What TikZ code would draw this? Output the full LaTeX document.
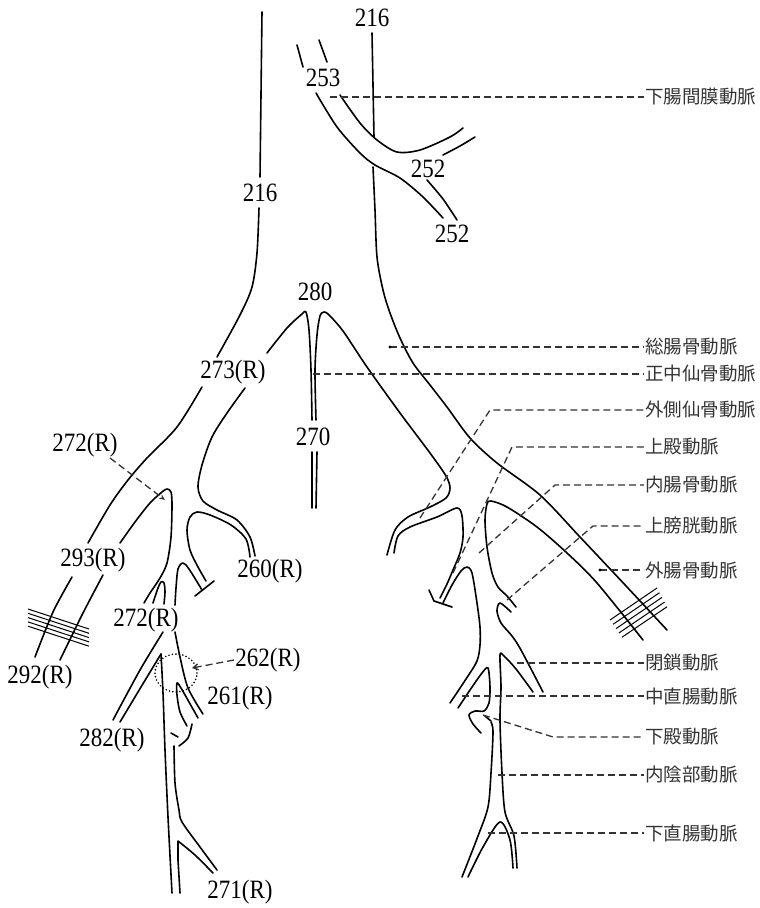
\documentclass[tikz,border=0pt]{standalone}
\usepackage{fontspec}
\setmainfont{Liberation Serif}
\newfontfamily\jp{Noto Sans CJK JP}
\usetikzlibrary{arrows.meta}
\begin{document}
\begin{tikzpicture}[x=1pt,y=-1pt,
  vessel/.style={line width=1.6pt, line cap=round, line join=round},
  lead/.style={line width=1.3pt, dash pattern=on 7pt off 4pt, black!80},
  hatch/.style={line width=1pt},
  num/.style={inner sep=0pt, font=\fontsize{23}{23}\selectfont},
  jlab/.style={anchor=west, inner sep=1pt, font=\jp\fontsize{18.5}{18.5}\selectfont, text=black!80},
]
\useasboundingbox (0,0) rectangle (760,908);

% ---------- aorta left edge / right common & external iliac outer ----------
\draw[vessel] (262,12) -- (260,177);
\draw[vessel] plot[smooth] coordinates {(259,208) (257,253) (252,287) (240,315) (217,357)};
\draw[vessel] plot[smooth] coordinates {(202,387) (177,427) (147,458) (128,480) (110,505) (88,543)};
\draw[vessel] plot[smooth] coordinates {(72,577) (53,612) (35,657)};

% ---------- bifurcation 280, median sacral 270 ----------
\draw[vessel] plot[smooth, tension=0.5] coordinates {(267,353) (287,328) (302,314) (306,312) (309,330) (311,370) (312,420)};
\draw[vessel] (312,452) -- (312,508);
\draw[vessel] (317,452) -- (316,508);
\draw[vessel] plot[smooth, tension=0.5] coordinates {(316,420) (315,370) (317,335) (320,316) (324,312) (329,315) (343,331) (367,367) (400,413) (430,453) (446,476) (450,488) (446,498) (430,507) (408,517) (395,530) (387,555)};

% ---------- left internal iliac region ----------
\draw[vessel] plot[smooth] coordinates {(245,388) (227,413) (212,437) (202,465) (198,487) (203,501) (217,510) (237,520) (250,537) (255,556)};
\draw[vessel] plot[smooth] coordinates {(250,557) (246,539) (231,525) (210,515) (197,512) (190,517) (187,530) (190,550) (198,567) (206,581)};
\draw[vessel] plot[smooth] coordinates {(175,605) (176,588) (178,569) (183,563) (189,569) (202,590)};
\draw[vessel] (195,596) -- (214,581);
\draw[vessel] plot[smooth, tension=0.5] coordinates {(120,543) (135,522) (150,503) (162,492) (167,489) (171,492) (172,505) (171,537) (167,563) (160,578) (150,593) (144,603)};
\draw[vessel] plot[smooth] coordinates {(103,575) (83,613) (60,660)};
\draw[vessel] plot[smooth, tension=0.5] coordinates {(153,603) (158,588) (161,582) (164,583) (165,592) (164,604)};

\draw[vessel] plot[smooth] coordinates {(163,632) (140,670) (113,720)};
\draw[vessel] plot[smooth] coordinates {(120,722) (141,687) (161,654)};
\draw[vessel] plot[smooth] coordinates {(161,654) (163,693) (165,750) (168,817) (172,893)};
\draw[vessel] plot[smooth] coordinates {(175,632) (180,657) (188,688) (203,714)};
\draw[vessel] plot[smooth, tension=0.5] coordinates {(198,718) (189,702) (181,688) (177,683) (177,695) (180,712) (187,726)};
\draw[vessel] plot[smooth] coordinates {(192,724) (188,738) (179,746)};
\draw[vessel] (171,733) -- (178,737);
\draw[vessel] plot[smooth] coordinates {(174,746) (175,783) (179,810) (182,822) (200,847) (217,870)};
\draw[vessel] plot[smooth] coordinates {(213,873) (195,855) (178,841)} -- (178,860) -- (180,893);

\draw[line width=1.8pt, line cap=round, dash pattern=on 0pt off 3.5pt] (176,673) ellipse [x radius=21pt, y radius=19pt];

\foreach \i in {0,...,4} \draw[hatch] (28,{609+4.3*\i}) -- (89,{629+4.3*\i});

% ---------- inferior mesenteric 253 / 252 ----------
\draw[vessel] (297,45) -- (303,67);
\draw[vessel] (319,40) -- (327,62);
\draw[vessel] plot[smooth] coordinates {(316,93) (337,127) (360,153) (375,165) (400,178) (423,197) (443,218)};
\draw[vessel] plot[smooth] coordinates {(340,95) (360,123) (377,140) (397,152) (420,150) (450,137) (463,128)};
\draw[vessel] plot[smooth] coordinates {(443,155) (460,146) (475,137)};
\draw[vessel] plot[smooth] coordinates {(427,180) (443,199) (457,220)};

% ---------- aorta right edge / left common & external iliac outer ----------
\draw[vessel] (372,33) -- (374,137);
\draw[vessel] plot[smooth] coordinates {(373,167) (375,210) (377,257) (383,290) (390,313) (400,338) (413,363) (430,385) (447,407) (470,438) (497,463) (540,495) (580,537) (627,587) (667,630)};
\draw[vessel] plot[smooth, tension=0.5] coordinates {(643,640) (597,583) (567,553) (537,527) (507,507) (491,501) (487,504) (485,520) (487,547) (492,573) (498,587) (507,596) (516,607)};
\draw[vessel] plot[smooth, tension=0.5] coordinates {(511,612) (500,603) (497,611) (501,623) (512,636) (521,650) (543,692)};

% ---------- left internal iliac branches ----------
\draw[vessel] plot[smooth, tension=0.5] coordinates {(394,553) (398,536) (410,527) (437,517) (457,508) (462,516) (463,537) (460,553) (453,570) (447,584) (440,598)};
\draw[vessel] (429,590) -- (434,601) -- (452,607);
\draw[vessel] plot[smooth, tension=0.5] coordinates {(443,603) (452,585) (461,571) (467,567) (472,573) (477,603) (480,627) (480,645) (477,661) (466,679) (450,703)};
\draw[vessel] plot[smooth, tension=0.5] coordinates {(458,708) (470,690) (482,673) (488,668) (490,687) (489,703) (484,711) (475,711) (469,715) (473,724) (481,733)};
\draw[vessel] (485,716) -- (491,721);
\draw[vessel] plot[smooth] coordinates {(491,722) (493,732) (491,773) (488,807) (478,836) (462,877)};
\draw[vessel] plot[smooth, tension=0.5] coordinates {(533,692) (516,669) (504,656) (500,655) (501,687) (500,720) (502,773) (505,812) (514,836) (517,868)};
\draw[vessel] plot[smooth, tension=0.5] coordinates {(468,877) (483,847) (500,822) (510,840) (513,868)};

\foreach \i in {0,...,4} \draw[hatch] ({610+3*\i},{620+4.3*\i}) -- ({657+2.5*\i},{588+4.7*\i});

% ---------- number labels ----------
\node[num] (n216t) at (372,18) {\scalebox{1}[1.15]{216}};
\node[num] (n216l) at (260,193) {\scalebox{1}[1.15]{216}};
\node[num] (n253) at (323,78) {\scalebox{1}[1.15]{253}};
\node[num] (n252a) at (428,169) {\scalebox{1}[1.15]{252}};
\node[num] (n252b) at (452,234) {\scalebox{1}[1.15]{252}};
\node[num] (n280) at (315,292) {\scalebox{1}[1.15]{280}};
\node[num] (n273) at (233,372) {\scalebox{1}[1.15]{273(R)}};
\node[num] (n270) at (313,437) {\scalebox{1}[1.15]{270}};
\node[num] (n272a) at (85,445) {\scalebox{1}[1.15]{272(R)}};
\node[num] (n293) at (93,560) {\scalebox{1}[1.15]{293(R)}};
\node[num] (n260) at (270,571) {\scalebox{1}[1.15]{260(R)}};
\node[num] (n272b) at (146,620) {\scalebox{1}[1.15]{272(R)}};
\node[num] (n262) at (268,660) {\scalebox{1}[1.15]{262(R)}};
\node[num] (n292) at (40,677) {\scalebox{1}[1.15]{292(R)}};
\node[num] (n261) at (240,698) {\scalebox{1}[1.15]{261(R)}};
\node[num] (n282) at (112,740) {\scalebox{1}[1.15]{282(R)}};
\node[num] (n271) at (240,892) {\scalebox{1}[1.15]{271(R)}};

\coordinate (a272s) at (110,458);
\coordinate (a272e) at (165,500);
\draw[lead, -{Stealth[length=6pt,width=5pt]}] (a272s) -- (a272e);
\coordinate (a262s) at (234,660);
\coordinate (a262e) at (192,668);
\draw[lead, -{Straight Barb[length=5pt,width=6pt]}] (a262s) -- (a262e);

% ---------- Japanese labels with leaders ----------
\node[jlab] (j1) at (644,97) {下腸間膜動脈};
\node[jlab] (j2) at (644,347) {総腸骨動脈};
\node[jlab] (j3) at (644,374) {正中仙骨動脈};
\node[jlab] (j4) at (644,410) {外側仙骨動脈};
\node[jlab] (j5) at (644,447) {上殿動脈};
\node[jlab] (j6) at (644,485) {内腸骨動脈};
\node[jlab] (j7) at (644,526) {上膀胱動脈};
\node[jlab] (j8) at (644,570) {外腸骨動脈};
\node[jlab] (j9) at (644,663) {閉鎖動脈};
\node[jlab] (j10) at (644,696) {中直腸動脈};
\node[jlab] (j11) at (644,737) {下殿動脈};
\node[jlab] (j12) at (644,775) {内陰部動脈};
\node[jlab] (j13) at (644,833) {下直腸動脈};

\coordinate (p1) at (330,97);
\coordinate (p2) at (390,347);
\coordinate (p3) at (313,374);
\coordinate (p4) at (420,518);  \coordinate (b4) at (490,410);
\coordinate (p5) at (453,573);  \coordinate (b5) at (512,447);
\coordinate (p6) at (479,553);  \coordinate (b6) at (555,485);
\coordinate (p7) at (507,600);  \coordinate (b7) at (593,526);
\coordinate (p8) at (600,570);
\coordinate (p9) at (517,663);
\coordinate (p10) at (462,696);
\coordinate (p11) at (483,715); \coordinate (b11) at (553,737);
\coordinate (p12) at (498,775);
\coordinate (p13) at (488,833);

\draw[lead] (p1) -- (j1.west);
\draw[lead] (p2) -- (j2.west);
\draw[lead] (p3) -- (j3.west);
\draw[lead] (p4) -- (b4) -- (j4.west);
\draw[lead] (p5) -- (b5) -- (j5.west);
\draw[lead] (p6) -- (b6) -- (j6.west);
\draw[lead] (p7) -- (b7) -- (j7.west);
\draw[lead] (p8) -- (j8.west);
\draw[lead] (p9) -- (j9.west);
\draw[lead] (p10) -- (j10.west);
\draw[lead] (p11) -- (b11) -- (j11.west);
\draw[lead] (p12) -- (j12.west);
\draw[lead] (p13) -- (j13.west);
\fill (p2) circle (1.6pt);
\fill (p8) circle (1.6pt);
\end{tikzpicture}
\end{document}
